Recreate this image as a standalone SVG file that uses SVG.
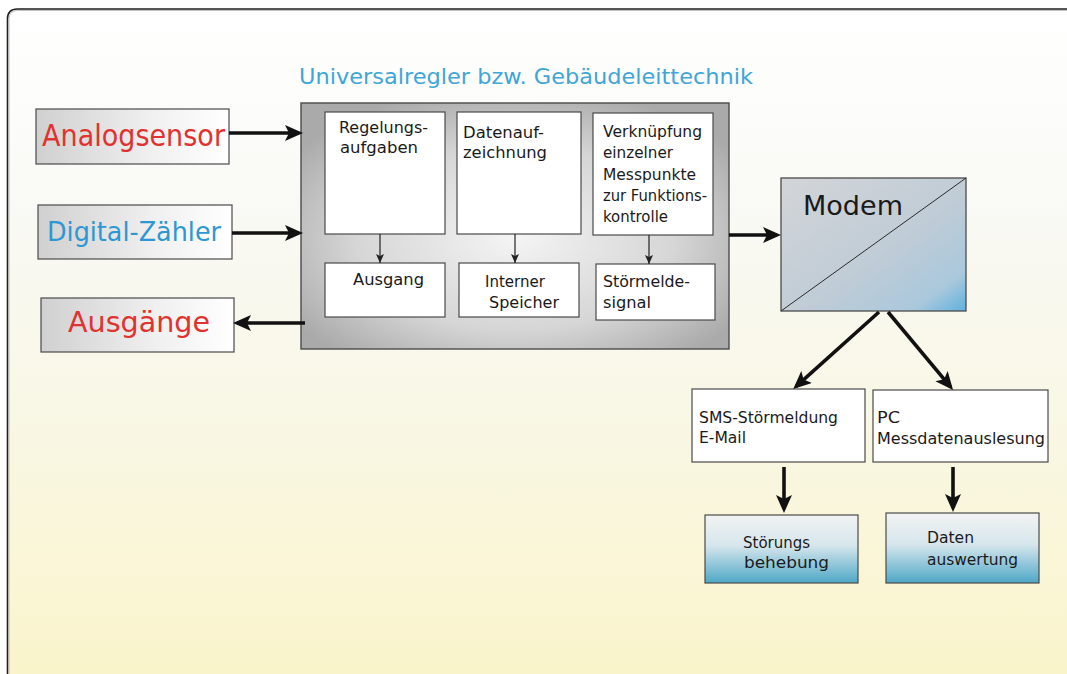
<svg xmlns="http://www.w3.org/2000/svg" width="1067" height="674" viewBox="0 0 1067 674">
<defs>
<style>
text{font-family:"DejaVu Sans","Liberation Sans",sans-serif;fill:#1a1a1a}
.in{font-size:15.5px}
.sm{font-size:16px}
.red{fill:#e0332f}
.blue{fill:#2e97d3}
.box{fill:#fff;stroke:#4a4a4a;stroke-width:1.2}
.lbl{stroke:#4a4a4a;stroke-width:1.2;fill:url(#gLeft)}
.res{stroke:#4a4a4a;stroke-width:1.2;fill:url(#gRes)}
.thick{stroke:#111;stroke-width:3.6;fill:none;marker-end:url(#bigHead)}
.thin{stroke:#222;stroke-width:1.2;fill:none;marker-end:url(#smallHead)}
</style>
<linearGradient id="gBg" x1="0" y1="0" x2="0" y2="1">
<stop offset="0" stop-color="#ffffff"/>
<stop offset="0.3" stop-color="#f9f9f5"/>
<stop offset="0.65" stop-color="#f9f7e3"/>
<stop offset="1" stop-color="#faf4cb"/>
</linearGradient>
<linearGradient id="gLeft" x1="0" y1="0" x2="1" y2="0">
<stop offset="0" stop-color="#d0d0d0"/>
<stop offset="0.6" stop-color="#f0f0f0"/>
<stop offset="1" stop-color="#ffffff"/>
</linearGradient>
<radialGradient id="gMain" cx="0.5" cy="0.55" r="0.62">
<stop offset="0" stop-color="#f4f4f4"/>
<stop offset="0.6" stop-color="#d6d6d6"/>
<stop offset="1" stop-color="#aaaaaa"/>
</radialGradient>
<linearGradient id="gModem" x1="0" y1="0" x2="1" y2="1">
<stop offset="0" stop-color="#d3d5d8"/>
<stop offset="0.55" stop-color="#c0ccd6"/>
<stop offset="0.85" stop-color="#aac8dc"/>
<stop offset="1" stop-color="#5fb1de"/>
</linearGradient>
<linearGradient id="gRes" x1="0" y1="0" x2="0" y2="1">
<stop offset="0" stop-color="#f2f3f3"/>
<stop offset="0.45" stop-color="#d6e6ec"/>
<stop offset="1" stop-color="#4ea7c7"/>
</linearGradient>
<marker id="bigHead" markerUnits="userSpaceOnUse" markerWidth="20" markerHeight="18" refX="14" refY="8" orient="auto">
<path d="M0,0 L18,8 L0,16 L4,8 Z" fill="#111"/>
</marker>
<marker id="smallHead" markerUnits="userSpaceOnUse" markerWidth="10" markerHeight="10" refX="9" refY="4" orient="auto">
<path d="M0,0 L9,4 L0,8 L2,4 Z" fill="#222"/>
</marker>
</defs>

<rect x="0" y="0" width="1067" height="674" fill="#fff"/>
<path d="M7.5,674 V19 Q7.5,9 17.5,9 H1067 V674 Z" fill="url(#gBg)"/>
<path d="M7.5,674 V19 Q7.5,9 17.5,9 H1067" fill="none" stroke="#1e1e1e" stroke-width="1.6"/>
<path d="M9,674 V19 Q9,10.5 17.5,10.5 H1067" fill="none" stroke="#b0b0b0" stroke-width="0.8"/>

<text id="title" x="299" y="84" font-size="22" style="fill:#3fa6d6" textLength="454" lengthAdjust="spacingAndGlyphs">Universalregler bzw. Gebäudeleittechnik</text>

<g id="analogsensor">
<rect class="lbl" x="36" y="109" width="193" height="55"/>
<text class="red" x="42" y="145.5" font-size="29.5" textLength="183" lengthAdjust="spacingAndGlyphs">Analogsensor</text>
</g>
<g id="digital-zaehler">
<rect class="lbl" x="38" y="205" width="194" height="54"/>
<text class="blue" x="47" y="240.5" font-size="26.5" textLength="174" lengthAdjust="spacingAndGlyphs">Digital-Zähler</text>
</g>
<g id="ausgaenge">
<rect class="lbl" x="41" y="298" width="193" height="54"/>
<text class="red" x="68" y="332" font-size="28" textLength="142" lengthAdjust="spacingAndGlyphs">Ausgänge</text>
</g>

<g id="universalregler">
<rect x="301" y="103" width="428" height="246" fill="url(#gMain)" stroke="#4a4a4a" stroke-width="1.4"/>
</g>
<g id="regelungsaufgaben">
<rect class="box" x="325" y="112" width="120" height="122"/>
<text class="in" x="339" y="133" textLength="89" lengthAdjust="spacingAndGlyphs">Regelungs-</text>
<text class="in" x="340" y="153" textLength="78" lengthAdjust="spacingAndGlyphs">aufgaben</text>
</g>
<g id="datenaufzeichnung">
<rect class="box" x="457" y="112" width="124" height="122"/>
<text class="in" x="463" y="137.5" textLength="81" lengthAdjust="spacingAndGlyphs">Datenauf-</text>
<text class="in" x="463" y="157.5" textLength="84" lengthAdjust="spacingAndGlyphs">zeichnung</text>
</g>
<g id="verknuepfung">
<rect class="box" x="593" y="113" width="120" height="122"/>
<text class="in" x="603" y="137" textLength="99" lengthAdjust="spacingAndGlyphs">Verknüpfung</text>
<text class="in" x="603" y="158" textLength="70" lengthAdjust="spacingAndGlyphs">einzelner</text>
<text class="in" x="603" y="180" textLength="93" lengthAdjust="spacingAndGlyphs">Messpunkte</text>
<text class="in" x="603" y="201" textLength="104" lengthAdjust="spacingAndGlyphs">zur Funktions-</text>
<text class="in" x="603" y="222" textLength="65" lengthAdjust="spacingAndGlyphs">kontrolle</text>
</g>
<g id="ausgang">
<rect class="box" x="325" y="263" width="120" height="54"/>
<text class="in" x="353" y="285" textLength="71" lengthAdjust="spacingAndGlyphs">Ausgang</text>
</g>
<g id="interner-speicher">
<rect class="box" x="459" y="263" width="120" height="54"/>
<text class="in" x="485" y="287" textLength="60" lengthAdjust="spacingAndGlyphs">Interner</text>
<text class="in" x="489" y="308" textLength="70" lengthAdjust="spacingAndGlyphs">Speicher</text>
</g>
<g id="stoermeldesignal">
<rect class="box" x="596" y="264" width="119" height="56"/>
<text class="in" x="603" y="287" textLength="87" lengthAdjust="spacingAndGlyphs">Störmelde-</text>
<text class="in" x="603" y="308" textLength="48" lengthAdjust="spacingAndGlyphs">signal</text>
</g>

<g id="modem">
<rect x="781" y="178" width="185" height="133" fill="url(#gModem)" stroke="#4a4a4a" stroke-width="1.3"/>
<line x1="781" y1="311" x2="966" y2="178" stroke="#2a2a2a" stroke-width="1"/>
<text x="803" y="215" font-size="27" textLength="100" lengthAdjust="spacingAndGlyphs">Modem</text>
</g>

<g id="sms">
<rect class="box" x="692" y="389" width="173" height="73"/>
<text class="sm" x="699" y="423" textLength="139" lengthAdjust="spacingAndGlyphs">SMS-Störmeldung</text>
<text class="sm" x="699" y="443" textLength="47" lengthAdjust="spacingAndGlyphs">E-Mail</text>
</g>
<g id="pc">
<rect class="box" x="873" y="390" width="175" height="72"/>
<text class="sm" x="877" y="423" textLength="23" lengthAdjust="spacingAndGlyphs">PC</text>
<text class="sm" x="877" y="444" textLength="168" lengthAdjust="spacingAndGlyphs">Messdatenauslesung</text>
</g>
<g id="stoerungsbehebung">
<rect class="res" x="705" y="515" width="153" height="68"/>
<text class="sm" x="743" y="547.5" textLength="67" lengthAdjust="spacingAndGlyphs">Störungs</text>
<text class="sm" x="744" y="568" textLength="85" lengthAdjust="spacingAndGlyphs">behebung</text>
</g>
<g id="datenauswertung">
<rect class="res" x="886" y="513" width="153" height="70"/>
<text class="sm" x="927" y="543" textLength="47" lengthAdjust="spacingAndGlyphs">Daten</text>
<text class="sm" x="927" y="565" textLength="91" lengthAdjust="spacingAndGlyphs">auswertung</text>
</g>

<g id="connectors">
<line class="thick" x1="229" y1="133" x2="299" y2="133"/>
<line class="thick" x1="232" y1="233" x2="299" y2="233"/>
<line class="thick" x1="305" y1="323" x2="237" y2="323"/>
<line class="thick" x1="729" y1="235" x2="777" y2="235"/>
<line class="thick" x1="879" y1="312" x2="796.2" y2="386.3"/>
<line class="thick" x1="888" y1="312" x2="950.5" y2="386.9"/>
<line class="thick" x1="784" y1="467" x2="784" y2="509"/>
<line class="thick" x1="953" y1="467" x2="953" y2="508"/>
<line class="thin" x1="380" y1="234" x2="380" y2="263"/>
<line class="thin" x1="515" y1="234" x2="515" y2="263"/>
<line class="thin" x1="649" y1="235" x2="649" y2="264"/>
</g>
</svg>
